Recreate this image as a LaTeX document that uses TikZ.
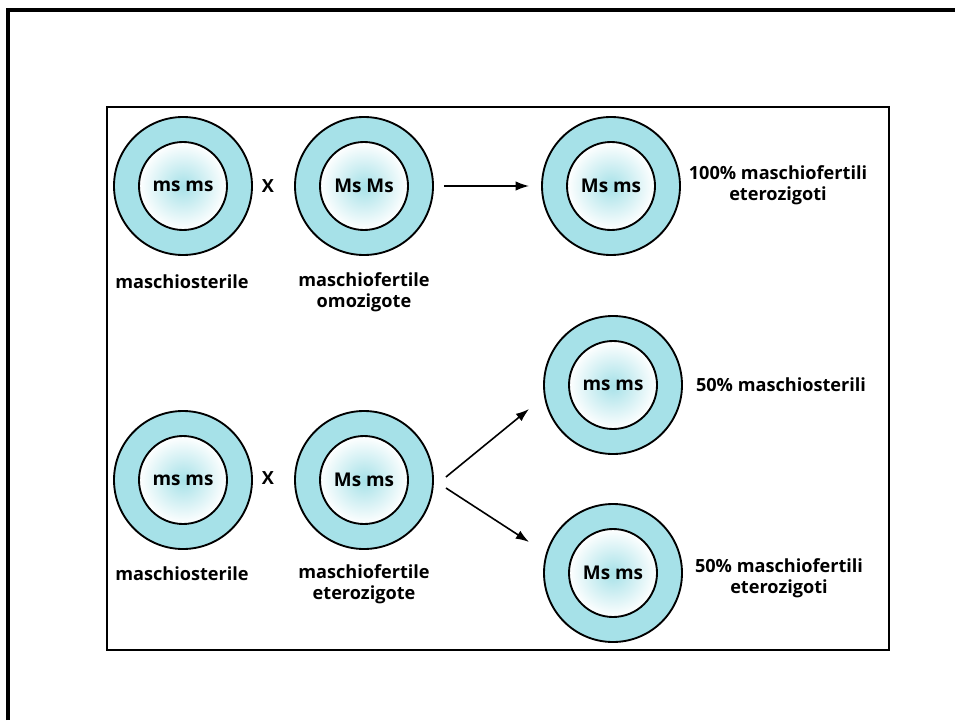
\documentclass[tikz,border=0pt]{standalone}
\usepackage{fontspec}
\setmainfont{Open Sans}
\usetikzlibrary{arrows.meta}
\definecolor{ringcol}{HTML}{A6E1E8}
\newcommand{\lblfont}{\fontsize{13.6}{16}\selectfont\bfseries}
\newcommand{\corefont}{\fontsize{14.2}{16}\selectfont\bfseries}

\tikzset{
  ringc/.style={circle, draw, line width=1.4pt, fill=ringcol, minimum size=103.5pt, inner sep=0pt},
  core/.style={circle, draw, line width=1.4pt, inner sep=0pt, minimum size=66pt,
    shading=radial, inner color=ringcol, outer color=white, font=\corefont},
  lbl/.style={font=\lblfont, align=center},
  arr/.style={-{Latex[length=10pt,width=7pt]}, line width=1.2pt}
}

\begin{document}
\begin{tikzpicture}[x=0.75pt, y=-0.75pt]
		\useasboundingbox (0,0) rectangle (955,720);
		
		% frames
		\draw[line width=2.4pt] (8,720) -- (8,10) -- (955,10);
		\draw[line width=2.2pt] (107,107) rectangle (889,650);
		
		% first cross
		\node[ringc] (p1) at (183,186) {};
		\node[core] (c1) at (p1) {ms ms};
		\node[ringc] (p2) at (364,186) {};
		\node[core] (c2) at (p2) {Ms Ms};
		\node[ringc] (f1) at (611,186) {};
		\node[core] (cf1) at (f1) {Ms ms};
		
		\node[lbl] (x1) at (268,186) {X};
		\node[lbl] (l1) at (182,282) {maschiosterile};
		\node[lbl] (l2) at (364,292) {maschiofertile\\omozigote};
		\node[lbl] (r1) at (778,185) {100\% maschiofertili\\eterozigoti};
		
		\draw[arr] ([shift={(10,0)}]p2.east) -- ([shift={(-12,0)}]f1.west);
		
		% second cross
		\node[ringc] (q1) at (183,480) {};
		\node[core] (d1) at (q1) {ms ms};
		\node[ringc] (q2) at (364,480) {};
		\node[core] (d2) at (q2) {Ms ms};
		\node[ringc] (g1) at (613,385) {};
		\node[core] (cg1) at (g1) {ms ms};
		\node[ringc] (g2) at (613,573) {};
		\node[core] (cg2) at (g2) {Ms ms};
		
		\node[lbl] (x2) at (268,478) {X};
		\node[lbl] (l3) at (182,574) {maschiosterile};
		\node[lbl] (l4) at (364,584) {maschiofertile\\eterozigote};
		\node[lbl] (r2) at (781,385) {50\% maschiosterili};
		\node[lbl] (r3) at (779,578) {50\% maschiofertili\\eterozigoti};
		
		\draw[arr] ([shift={(12,-3)}]q2.east) -- ([shift={(-14,24)}]g1.west);
		\draw[arr] ([shift={(12,8)}]q2.east) -- ([shift={(-14,-31)}]g2.west);
		
\end{tikzpicture}
\end{document}
